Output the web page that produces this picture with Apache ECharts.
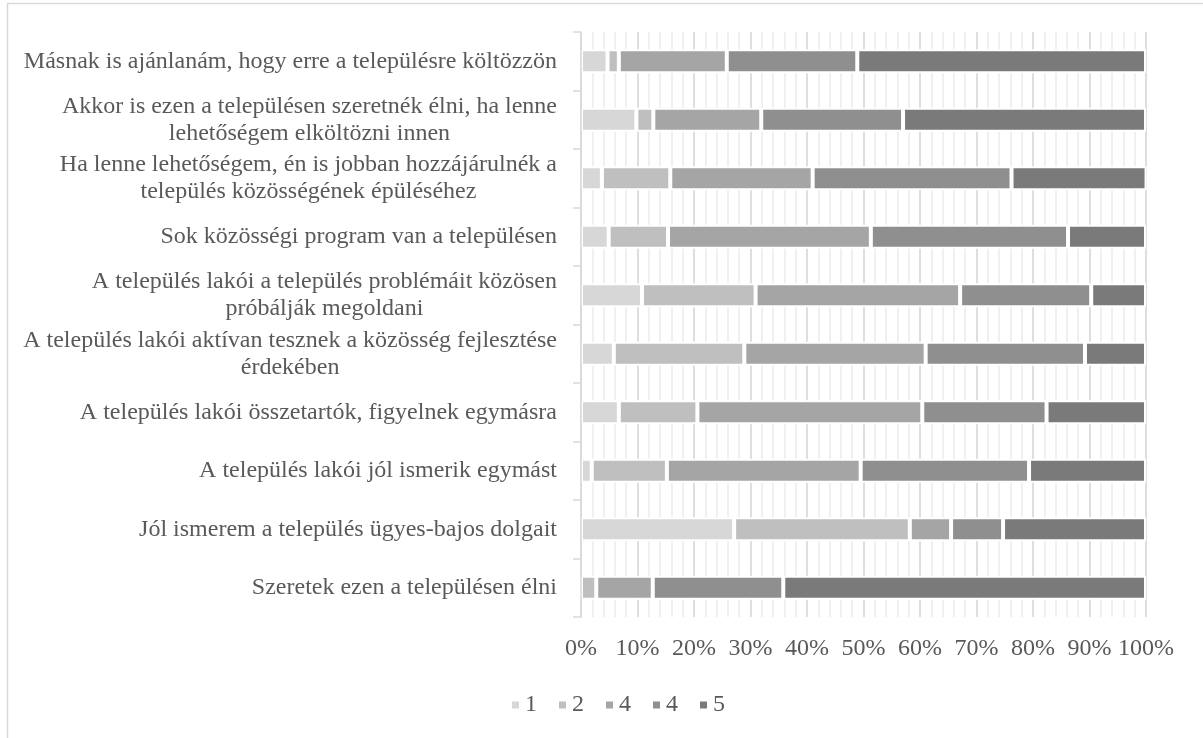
<!DOCTYPE html>
<html>
<head>
<meta charset="utf-8">
<script src="https://cdn.jsdelivr.net/npm/echarts@6/dist/echarts.min.js"></script>
<style>
    html, body {margin: 0; padding: 0; background: #fff;}
    #chart {width: 1203px; height: 738px;}
</style>
</head>
<body>
<div id="chart"></div>
<script>
// categories, top to bottom
var categories = [
    'Másnak is ajánlanám, hogy erre a településre költözzön',
    'Akkor is ezen a településen szeretnék élni, ha lenne\nlehetőségem elköltözni innen',
    'Ha lenne lehetőségem, én is jobban hozzájárulnék a\ntelepülés közösségének épüléséhez',
    'Sok közösségi program van a településen',
    'A település lakói a település problémáit közösen\npróbálják megoldani',
    'A település lakói aktívan tesznek a közösség fejlesztése\nérdekében',
    'A település lakói összetartók, figyelnek egymásra',
    'A település lakói jól ismerik egymást',
    'Jól ismerem a település ügyes-bajos dolgait',
    'Szeretek ezen a településen élni'
];

// legend shows "4" twice, so series keep their own ids
var seriesNames = ['s1', 's2', 's3', 's4', 's5'];
var legendLabels = ['1', '2', '4', '4', '5'];

var values1 = [4.7, 9.8, 3.7, 4.9, 10.8, 5.8, 6.7, 1.9, 27.1, 0];
var values2 = [2.0, 3.0, 12.1, 10.5, 20.1, 23.1, 13.9, 13.3, 31.1, 2.7];
var values3 = [19.1, 19.1, 25.2, 35.9, 36.2, 32.1, 39.8, 34.3, 7.3, 10.0];
var values4 = [23.1, 25.1, 35.2, 34.9, 23.2, 28.2, 22.0, 29.8, 9.2, 23.1];
var values5 = [51.1, 43.0, 23.9, 13.8, 9.7, 10.8, 17.6, 20.7, 25.3, 64.2];

var colors = ['#d7d7d7', '#bfbfbf', '#a5a5a5', '#8f8f8f', '#7a7a7a'];
var fontFamily = '"Liberation Serif", "Times New Roman", serif';
var textColor = '#595959';

var allValues = [values1, values2, values3, values4, values5];
var series = [];
for (var i = 0; i < seriesNames.length; i++) {
    series.push({
        name: seriesNames[i],
        type: 'bar',
        stack: 'total',
        barWidth: 24,
        data: allValues[i],
        itemStyle: {
            color: colors[i],
            borderColor: '#ffffff',
            borderWidth: 2
        }
    });
}

var chart = echarts.init(document.getElementById('chart'));
chart.setOption({
    animation: false,
    color: colors,
    graphic: [{
        type: 'rect',
        shape: {x: 7.5, y: 3.5, width: 1220, height: 760},
        style: {fill: 'none', stroke: '#d9d9d9', lineWidth: 1.5},
        silent: true
    }],
    grid: {
        left: 581,
        right: 57,
        top: 32,
        bottom: 121
    },
    legend: {
        top: 688,
        left: 505,
        icon: 'rect',
        itemWidth: 9,
        itemHeight: 9,
        itemGap: 20,
        data: seriesNames,
        formatter: function (name) {
            return legendLabels[seriesNames.indexOf(name)];
        },
        textStyle: {
            fontFamily: fontFamily,
            fontSize: 24,
            color: textColor
        }
    },
    xAxis: {
        type: 'value',
        min: 0,
        max: 100,
        interval: 10,
        axisLine: {show: false},
        axisTick: {show: false},
        axisLabel: {
            formatter: '{value}%',
            margin: 20,
            fontFamily: fontFamily,
            fontSize: 24,
            color: textColor
        },
        splitLine: {
            lineStyle: {color: '#d3d3d3', width: 1.5}
        },
        minorTick: {show: false, splitNumber: 5},
        minorSplitLine: {
            show: true,
            lineStyle: {color: '#ececec', width: 1.5}
        }
    },
    yAxis: {
        type: 'category',
        inverse: true,
        data: categories,
        z: 5,
        axisLine: {
            lineStyle: {color: '#d9d9d9', width: 1.5}
        },
        axisTick: {
            show: true,
            length: 8,
            lineStyle: {color: '#d9d9d9', width: 1.5}
        },
        axisLabel: {
            margin: 24,
            fontFamily: fontFamily,
            fontSize: 24,
            color: textColor,
            formatter: function (v) {
                return v.split('\n').map(function (line) {
                    return '{c|' + line + '}';
                }).join('\n');
            },
            rich: {
                c: {
                    align: 'center',
                    fontFamily: fontFamily,
                    fontSize: 24,
                    lineHeight: 27,
                    color: textColor
                }
            }
        }
    },
    series: series
});
</script>
</body>
</html>
